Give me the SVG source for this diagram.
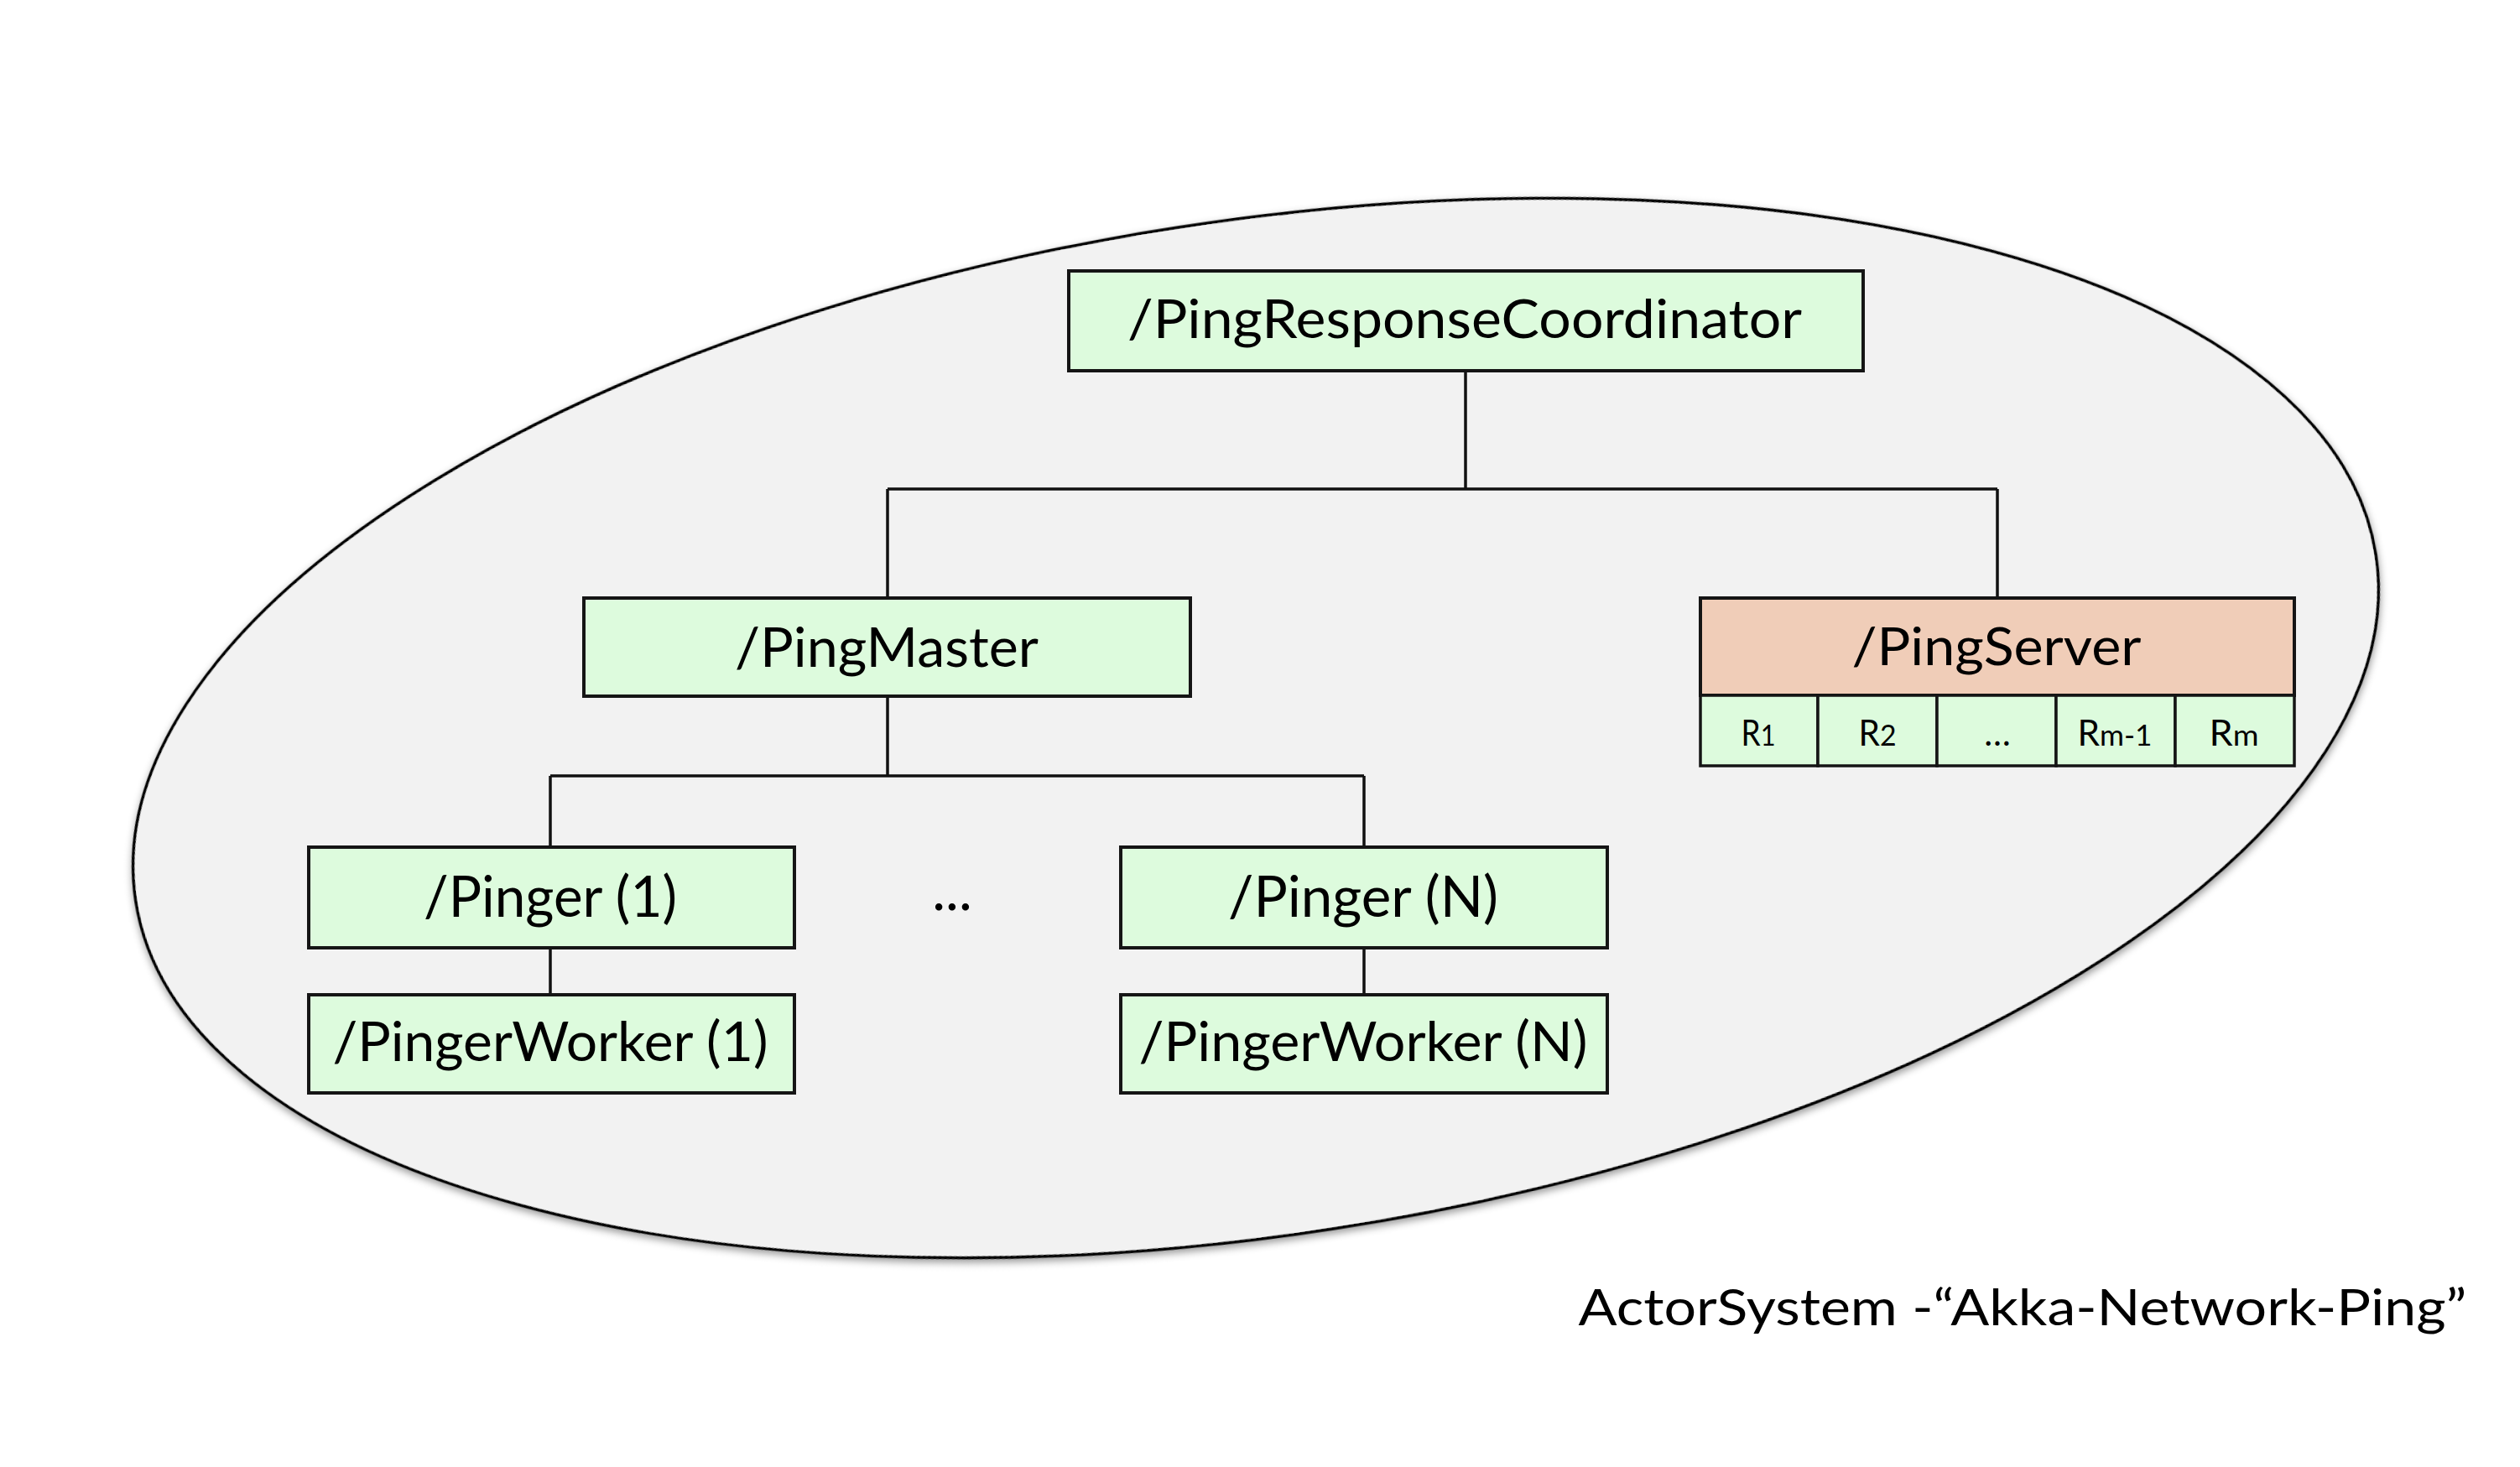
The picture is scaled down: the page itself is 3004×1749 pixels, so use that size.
<svg xmlns="http://www.w3.org/2000/svg" width="3004" height="1749" viewBox="0 0 3004 1749">
  <defs>
    <filter id="soft-shadow" x="-5%" y="-5%" width="110%" height="112%">
      <feDropShadow dx="0" dy="4" stdDeviation="5" flood-color="#000" flood-opacity="0.4"/>
    </filter>
    <style>
      .actor { fill: #ddfbdd; stroke: #151515; stroke-width: 4; }
      .server { fill: #f0cdb8; stroke: #151515; stroke-width: 4; }
      .cell { fill: #ddfbdd; stroke: #151515; stroke-width: 3.5; }
      .label { font-family: "Lato", "Liberation Sans", sans-serif; font-weight: 400; fill: #000; text-anchor: middle; }
      .wire { fill: none; stroke: #111; stroke-width: 3.5; }
    </style>
  </defs>

  <rect width="3004" height="1749" fill="#ffffff"/>

  <!-- actor system boundary -->
  <g id="actor-system">
    <ellipse cx="1497" cy="868" rx="1351" ry="604" transform="rotate(-8.8 1497 868)"
             fill="#f2f2f2" stroke="#000" stroke-width="3.5" filter="url(#soft-shadow)"/>
  </g>

  <!-- hierarchy wires -->
  <g id="connectors">
    <path class="wire" d="M1747 442 V583 M1058 583 H2381 M1058 583 V713 M2381 583 V713"/>
    <path class="wire" d="M1058 830 V925 M656 925 H1626 M656 925 V1010 M1626 925 V1010"/>
    <path class="wire" d="M656 1130 V1186 M1626 1130 V1186"/>
  </g>

  <g id="ping-response-coordinator">
    <rect class="actor" x="1274" y="323" width="947" height="119"/>
    <text class="label" x="1746" y="403" font-size="63" textLength="804" lengthAdjust="spacingAndGlyphs">/PingResponseCoordinator</text>
  </g>

  <g id="ping-master">
    <rect class="actor" x="696" y="713" width="723" height="117"/>
    <text class="label" x="1057" y="795" font-size="65" textLength="362" lengthAdjust="spacingAndGlyphs">/PingMaster</text>
  </g>

  <g id="ping-server">
    <rect class="server" x="2027" y="713" width="708" height="116"/>
    <text class="label" x="2380" y="793" font-size="61" textLength="345" lengthAdjust="spacingAndGlyphs">/PingServer</text>
    <rect class="cell" x="2027" y="829" width="140" height="84"/>
    <rect class="cell" x="2167" y="829" width="142" height="84"/>
    <rect class="cell" x="2309" y="829" width="142" height="84"/>
    <rect class="cell" x="2451" y="829" width="142" height="84"/>
    <rect class="cell" x="2593" y="829" width="142" height="84"/>
    <text class="label" x="2096" y="889" font-size="42" textLength="41" lengthAdjust="spacingAndGlyphs">R<tspan font-size="35">1</tspan></text>
    <text class="label" x="2238" y="889" font-size="42" textLength="45" lengthAdjust="spacingAndGlyphs">R<tspan font-size="35">2</tspan></text>
    <text class="label" x="2381" y="889" font-size="42">…</text>
    <text class="label" x="2521" y="889" font-size="42" textLength="89" lengthAdjust="spacingAndGlyphs">R<tspan font-size="35">m-1</tspan></text>
    <text class="label" x="2663" y="889" font-size="42" textLength="59" lengthAdjust="spacingAndGlyphs">R<tspan font-size="35">m</tspan></text>
  </g>

  <g id="pinger-1">
    <rect class="actor" x="368" y="1010" width="579" height="120"/>
    <text class="label" x="656" y="1093" font-size="67" textLength="302" lengthAdjust="spacingAndGlyphs">/Pinger (1)</text>
  </g>

  <g id="pinger-ellipsis">
    <text class="label" x="1135" y="1085" font-size="67">...</text>
  </g>

  <g id="pinger-n">
    <rect class="actor" x="1336" y="1010" width="580" height="120"/>
    <text class="label" x="1625" y="1093" font-size="67" textLength="322" lengthAdjust="spacingAndGlyphs">/Pinger (N)</text>
  </g>

  <g id="pinger-worker-1">
    <rect class="actor" x="368" y="1186" width="579" height="117"/>
    <text class="label" x="656" y="1265" font-size="66" textLength="519" lengthAdjust="spacingAndGlyphs">/PingerWorker (1)</text>
  </g>

  <g id="pinger-worker-n">
    <rect class="actor" x="1336" y="1186" width="580" height="117"/>
    <text class="label" x="1625" y="1265" font-size="66" textLength="535" lengthAdjust="spacingAndGlyphs">/PingerWorker (N)</text>
  </g>

  <g id="system-caption">
    <text class="label" x="2411" y="1580" font-size="60" textLength="1059" lengthAdjust="spacingAndGlyphs">ActorSystem -“Akka-Network-Ping”</text>
  </g>
</svg>
